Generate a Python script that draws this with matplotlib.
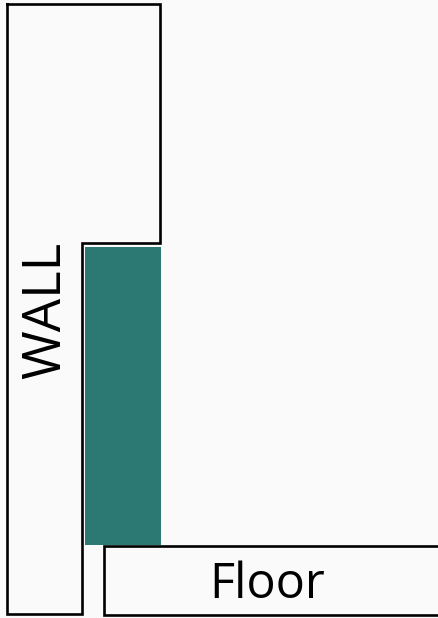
import matplotlib
matplotlib.use("Agg")
import matplotlib.pyplot as plt
from matplotlib.patches import Rectangle

wall_x = [7, 160, 160, 82, 82, 7, 7]
wall_y = [4, 4, 242.5, 242.5, 614, 614, 4]
floor_x = [438, 104, 103.5, 438]
floor_y = [545.5, 545.5, 614.5, 614.5]
floor_x[1] = 103.5
block_left, block_top, block_width, block_height = 85, 247, 76, 298
labels = ["WALL", "Floor"]

BG = "#FAFAFA"
fig = plt.figure(figsize=(4.38, 6.18), dpi=100, facecolor=BG)
ax = fig.add_axes([0, 0, 1, 1])
ax.set_xlim(0, 438)
ax.set_ylim(618, 0)
ax.axis("off")

ax.add_patch(Rectangle((block_left, block_top), block_width, block_height,
                       facecolor="#2C7873", edgecolor="none"))
ax.plot(wall_x, wall_y, color="black", lw=1.9, solid_joinstyle="miter")
ax.plot(floor_x, floor_y, color="black", lw=1.9, solid_joinstyle="miter")

ax.text(46, 310, labels[0], rotation=90, ha="center", va="center",
        fontsize=38, family="Open Sans", color="black")
ax.text(267.5, 585, labels[1], ha="center", va="center",
        fontsize=35, family="Open Sans", color="black")

fig.savefig("out.png", dpi=100, facecolor=BG)
